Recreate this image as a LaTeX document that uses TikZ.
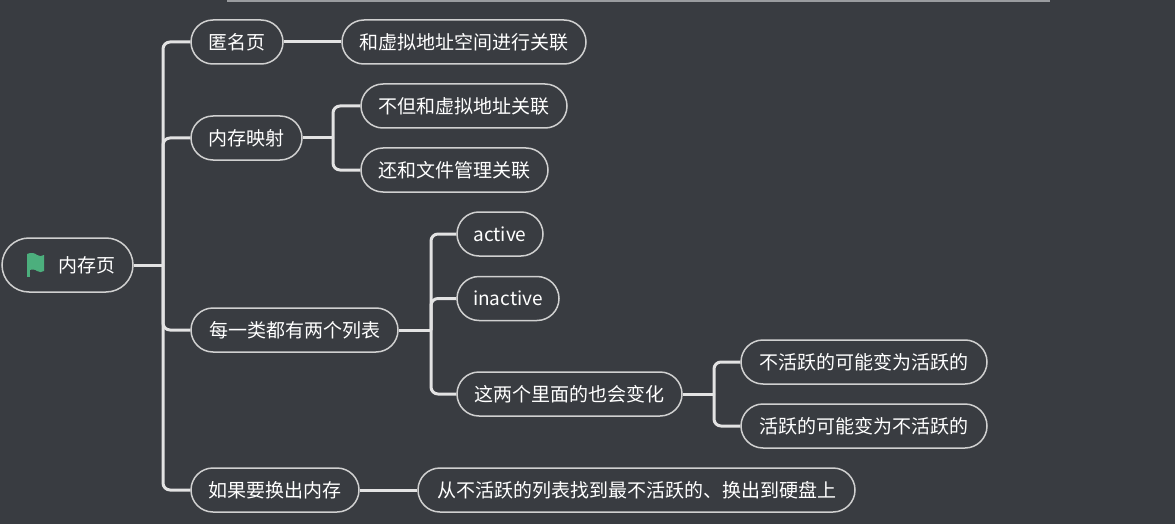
\documentclass[tikz,border=0pt]{standalone}
\usepackage{fontspec}
\setmainfont{Noto Sans CJK SC}
\usetikzlibrary{shapes.misc}
\definecolor{bg}{HTML}{393C41}
\definecolor{lineclr}{HTML}{E3E3E3}
\definecolor{bordclr}{HTML}{D0D0D0}
\definecolor{flagclr}{HTML}{4CAF7D}
\definecolor{barclr}{HTML}{9A9C9F}
\begin{document}
\begin{tikzpicture}[x=1pt,y=-1pt,
  topic/.style={rounded rectangle, draw=bordclr, line width=1.5pt, minimum height=44pt,
    inner sep=0pt, text=white, font=\fontsize{19}{22}\selectfont},
  conn/.style={draw=lineclr, line width=3pt, rounded corners=7pt}]
\useasboundingbox (0,0) rectangle (1175,524);
\fill[bg] (0,0) rectangle (1175,524);
\fill[barclr] (227,0) rectangle (1050,1.6);

% nodes
\node[topic, minimum width=131pt, minimum height=54pt] (root) at (67.5,265) {\hspace*{38pt}内存页};
\node[topic, minimum width=92pt] (n1) at (237,42) {匿名页};
\node[topic, minimum width=244pt] (n1a) at (464,42) {和虚拟地址空间进行关联};
\node[topic, minimum width=111pt] (n2) at (246.5,138) {内存映射};
\node[topic, minimum width=206pt] (n2a) at (464,106) {不但和虚拟地址关联};
\node[topic, minimum width=187pt] (n2b) at (454.5,170) {还和文件管理关联};
\node[topic, minimum width=207pt] (n3) at (294.5,330) {每一类都有两个列表};
\node[topic, minimum width=86pt] (n3a) at (500,234) {active};
\node[topic, minimum width=102pt] (n3b) at (508,298.5) {inactive};
\node[topic, minimum width=225pt] (n3c) at (569.5,394) {这两个里面的也会变化};
\node[topic, minimum width=246pt] (n3c1) at (864,362) {不活跃的可能变为活跃的};
\node[topic, minimum width=246pt] (n3c2) at (864,426) {活跃的可能变为不活跃的};
\node[topic, minimum width=168pt] (n4) at (275,490) {如果要换出内存};
\node[topic, minimum width=437pt] (n4a) at (636.5,490) {从不活跃的列表找到最不活跃的、换出到硬盘上};

% flag icon
\fill[flagclr] (27,254) .. controls (31,252) and (35,253) .. (37,255) .. controls (39,257) and (42,256) .. (44,255) -- (44,271) .. controls (42,272) and (39,273) .. (37,271) .. controls (35,269) and (31,269) .. (27,271) -- cycle;
\fill[flagclr] (27,254) rectangle (30,277);

% junctions
\coordinate (j0) at (163,265);
\coordinate (j2) at (333,138);
\coordinate (j3) at (431,330);
\coordinate (j3c) at (714,394);

% connectors
\draw[conn] (root.east) -- (j0);
\foreach \c in {n1,n2,n3,n4} \draw[conn] (j0) |- (\c.west);
\draw[conn] (n1.east) -- (n1a.west);
\draw[conn] (n2.east) -- (j2);
\foreach \c in {n2a,n2b} \draw[conn] (j2) |- (\c.west);
\draw[conn] (n3.east) -- (j3);
\foreach \c in {n3a,n3b,n3c} \draw[conn] (j3) |- (\c.west);
\draw[conn] (n3c.east) -- (j3c);
\foreach \c in {n3c1,n3c2} \draw[conn] (j3c) |- (\c.west);
\draw[conn] (n4.east) -- (n4a.west);
\end{tikzpicture}
\end{document}
